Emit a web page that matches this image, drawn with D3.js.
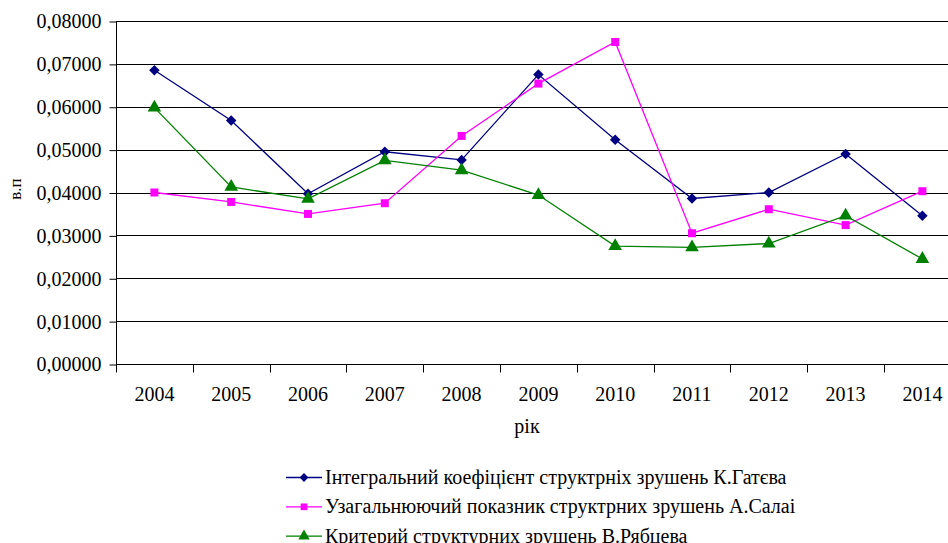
<!DOCTYPE html>
<meta charset="utf-8">
<head>
	<title>Структурні зрушення</title>
</head>
<style>
	body { margin: 0; background: #fff; }
	svg text { font-family: "Liberation Serif", "DejaVu Serif", serif; fill: #000; }
</style>
<body>
<div id="wrapper"></div>
<script src="https://d3js.org/d3.v7.min.js"></script>
<script>

var years = ["2004","2005","2006","2007","2008","2009","2010","2011","2012","2013","2014"];
var gatev = [0.0685, 0.0568, 0.0397, 0.0495, 0.0476, 0.0675, 0.0523, 0.0386, 0.0400, 0.0490, 0.0346];
var salai = [0.0400, 0.0378, 0.0350, 0.0375, 0.0532, 0.0654, 0.0751, 0.0305, 0.0361, 0.0324, 0.0403];
var ryabtsev = [0.0598, 0.0413, 0.0385, 0.0475, 0.0452, 0.0394, 0.0275, 0.0272, 0.0281, 0.0346, 0.0245];
var yTicks = [0, 0.01, 0.02, 0.03, 0.04, 0.05, 0.06, 0.07, 0.08];
var seriesNames = ["Інтегральний коефіцієнт структрніх зрушень К.Гатєва",
	"Узагальнюючий показник структрних зрушень А.Салаі",
	"Критерий структурних зрушень В.Рябцева"];

var diamond = d3.symbolDiamond2 || d3.symbolDiamond;
var series = [
	{name: seriesNames[0], values: gatev, color: "#000080", symbol: diamond, size: 70},
	{name: seriesNames[1], values: salai, color: "#ff00ff", symbol: d3.symbolSquare, size: 64},
	{name: seriesNames[2], values: ryabtsev, color: "#008000", symbol: d3.symbolTriangle, size: 80}
];

var width = 948, height = 543;
var plotLeft = 116, plotTop = 21, plotBottom = 364, bandW = 76.8;

var svg = d3.select("#wrapper").append("svg")
	.attr("width", width).attr("height", height);

var x = d3.scaleBand().domain(years).range([plotLeft, plotLeft + bandW * years.length]);
var y = d3.scaleLinear().domain([0, 0.08]).range([plotBottom, plotTop]);
var fmt = function(d) { return d3.format(".5f")(d).replace(".", ","); };

// gridlines
svg.append("g").selectAll("line").data(yTicks.slice(1)).join("line")
	.attr("x1", plotLeft).attr("x2", width)
	.attr("y1", function(d) { return Math.round(y(d)) + 0.5; })
	.attr("y2", function(d) { return Math.round(y(d)) + 0.5; })
	.attr("stroke", "#000").attr("stroke-width", 1);

// y axis
var yAxis = svg.append("g")
	.attr("transform", "translate(" + (plotLeft + 0.5) + ",0.5)")
	.call(d3.axisLeft(y).tickValues(yTicks).tickFormat(fmt).tickSize(7).tickPadding(8));
yAxis.select(".domain").attr("d", "M0," + Math.round(plotTop) + "V" + Math.round(plotBottom));
yAxis.selectAll("text").attr("font-size", null).attr("font-family", null)
	.style("font-size", "20px");

// x axis
var xAxis = svg.append("g")
	.attr("transform", "translate(0," + (Math.round(plotBottom) + 0.5) + ")");
xAxis.append("line").attr("x1", plotLeft).attr("x2", width).attr("stroke", "#000");
xAxis.selectAll(".tk").data(years).join("line").attr("class", "tk")
	.attr("x1", function(d) { return Math.round(x(d)) + 0.5; })
	.attr("x2", function(d) { return Math.round(x(d)) + 0.5; })
	.attr("y1", 0).attr("y2", 8).attr("stroke", "#000");
xAxis.selectAll("text").data(years).join("text")
	.attr("x", function(d) { return x(d) + x.bandwidth() / 2; })
	.attr("y", 36.5)
	.attr("text-anchor", "middle")
	.style("font-size", "20px")
	.text(function(d) { return d; });

// axis titles
svg.append("text").attr("transform", "translate(21,189) rotate(-90)")
	.attr("text-anchor", "middle").style("font-size", "17px").text("в.п");
svg.append("text").attr("x", 527).attr("y", 433)
	.attr("text-anchor", "middle").style("font-size", "20px").text("рік");

// lines and markers
var line = d3.line()
	.x(function(d, i) { return x(years[i]) + x.bandwidth() / 2; })
	.y(function(d) { return y(d); });

series.forEach(function(s) {
	svg.append("path").datum(s.values)
		.attr("fill", "none").attr("stroke", s.color).attr("stroke-width", 1.3)
		.attr("d", line);
	svg.append("g").selectAll("path").data(s.values).join("path")
		.attr("transform", function(d, i) {
			return "translate(" + (x(years[i]) + x.bandwidth() / 2) + "," + y(d) + ")";
		})
		.attr("d", d3.symbol().type(s.symbol).size(s.size))
		.attr("fill", s.color);
});

// legend
var legend = svg.append("g").selectAll("g").data(series).join("g")
	.attr("transform", function(d, i) { return "translate(286," + (477.5 + i * 29.3) + ")"; });
legend.append("line").attr("x1", 0).attr("x2", 36)
	.attr("stroke", function(d) { return d.color; }).attr("stroke-width", 1.3);
legend.append("path").attr("transform", "translate(18,0)")
	.attr("d", function(d) { return d3.symbol().type(d.symbol).size(d.size * 0.7)(); })
	.attr("fill", function(d) { return d.color; });
legend.append("text").attr("x", 39).attr("y", 6.5)
	.style("font-size", "20px")
	.text(function(d) { return d.name; });

</script>
</body>
</html>
